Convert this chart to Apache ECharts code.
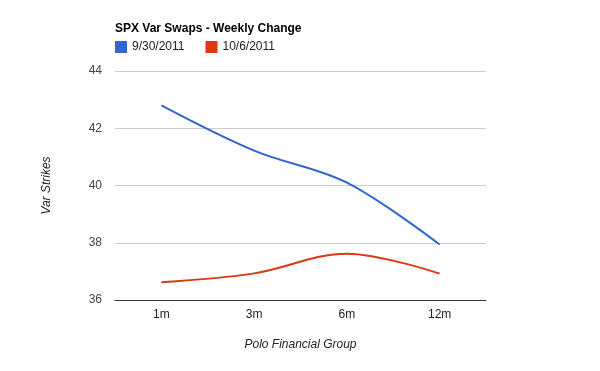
<!DOCTYPE html>
<html><head><meta charset="utf-8">
<script src="https://cdn.jsdelivr.net/npm/echarts@6/dist/echarts.min.js"></script>
<style>html,body{margin:0;padding:0;background:#fff}#c{width:600px;height:371px}</style>
</head><body><div id="c"></div>
<script>
var categories = ['1m', '3m', '6m', '12m'];
var series1Name = '9/30/2011';
var series1 = [42.8, 41.22, 40.1, 37.94];
var series2Name = '10/6/2011';
var series2 = [36.62, 36.93, 37.62, 36.92];
var yTicks = { min: 36, max: 44, interval: 2 };

var chart = echarts.init(document.getElementById('c'), null, { renderer: 'canvas' });
var font = 'Arial, "Liberation Sans", sans-serif';
chart.setOption({
  animation: false,
  title: {
    text: 'SPX Var Swaps - Weekly Change',
    left: 110, top: 18,
    textStyle: { fontFamily: font, fontSize: 12, fontWeight: 'bold', color: '#000' }
  },
  legend: {
    left: 110, top: 36,
    itemWidth: 12, itemHeight: 12, itemGap: 21,
    icon: 'rect',
    textStyle: { fontFamily: font, fontSize: 12, color: '#222' },
    data: [series1Name, series2Name]
  },
  grid: { left: 115, right: 114, top: 71, bottom: 71, containLabel: false },
  xAxis: {
    type: 'category', data: categories, boundaryGap: true,
    name: 'Polo Financial Group', nameLocation: 'middle', nameGap: 39,
    nameTextStyle: { fontFamily: font, fontSize: 12, fontStyle: 'italic', color: '#222' },
    axisLine: { lineStyle: { color: '#333', width: 1 } },
    axisTick: { show: false },
    axisLabel: { fontFamily: font, fontSize: 12, color: '#222', margin: 9 }
  },
  yAxis: {
    type: 'value', min: yTicks.min, max: yTicks.max, interval: yTicks.interval,
    name: 'Var Strikes', nameLocation: 'middle', nameGap: 62, nameRotate: 90,
    nameTextStyle: { fontFamily: font, fontSize: 12, fontStyle: 'italic', color: '#222' },
    axisLine: { show: false }, axisTick: { show: false },
    axisLabel: { fontFamily: font, fontSize: 12, color: '#444', margin: 13 },
    splitLine: { lineStyle: { color: '#cccccc', width: 1 } }
  },
  series: [
    { name: series1Name, type: 'line', data: series1, smooth: 0.35, symbol: 'none',
      lineStyle: { width: 2, color: '#3366cc' }, itemStyle: { color: '#3366cc' } },
    { name: series2Name, type: 'line', data: series2, smooth: 0.35, symbol: 'none',
      lineStyle: { width: 2, color: '#dc3912' }, itemStyle: { color: '#dc3912' } }
  ]
});
</script></body></html>
